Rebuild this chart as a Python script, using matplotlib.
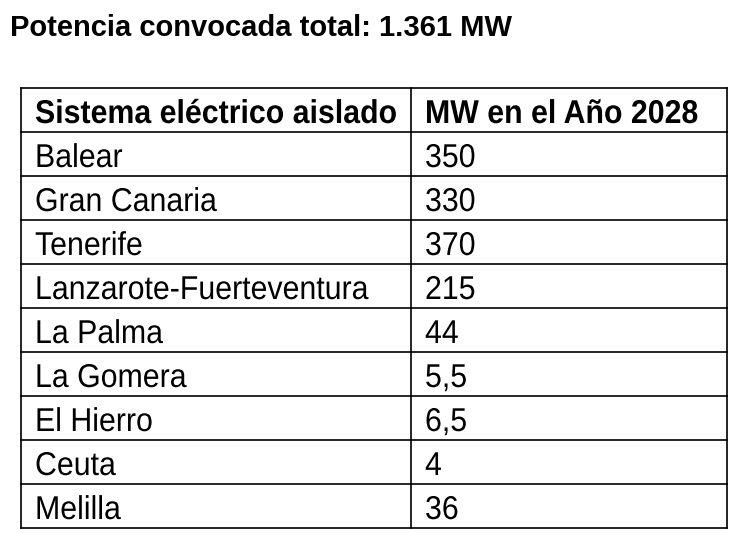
import matplotlib
matplotlib.use("Agg")
import matplotlib.pyplot as plt
from matplotlib.textpath import TextPath
from matplotlib.font_manager import FontProperties
from matplotlib.patches import PathPatch
from matplotlib.transforms import Affine2D

title = "Potencia convocada total: 1.361 MW"
header = ["Sistema eléctrico aislado", "MW en el Año 2028"]
sistemas = ["Balear", "Gran Canaria", "Tenerife", "Lanzarote-Fuerteventura",
            "La Palma", "La Gomera", "El Hierro", "Ceuta", "Melilla"]
mw = ["350", "330", "370", "215", "44", "5,5", "6,5", "4", "36"]

REG = FontProperties(family="Liberation Sans")
BOLD = FontProperties(family="Liberation Sans", weight="bold")
SIZE = 33  # em size in pixels


def text_path(s, prop):
    return TextPath((0, 0), s, size=SIZE, prop=prop)


# emulate a condensed face by squeezing glyphs horizontally
ref_w = text_path("Lanzarote-Fuerteventura", REG).get_extents().width
SQUEEZE = 331 / ref_w


def draw(ax, x, baseline, s, prop):
    p = text_path(s, prop)
    tr = Affine2D().scale(SQUEEZE, -1).translate(x, baseline)
    ax.add_patch(PathPatch(tr.transform_path(p), facecolor="black", edgecolor="none"))


fig = plt.figure(figsize=(7.5, 5.33), dpi=100)
ax = fig.add_axes([0, 0, 1, 1])
ax.set_xlim(0, 750)
ax.set_ylim(533, 0)
ax.axis("off")

ax.text(10, 28, title, fontsize=21, fontweight="bold", family=["Liberation Sans", "DejaVu Sans"],
        va="center", ha="left")

left, mid, right = 21, 411, 727
top, row_h = 88, 44
n_rows = len(sistemas) + 1
bottom = top + row_h * n_rows

for i in range(n_rows + 1):
    ax.plot([left, right], [top + i * row_h] * 2, color="black", lw=1.2)
for x in (left, mid, right):
    ax.plot([x, x], [top, bottom], color="black", lw=1.2)

rows = [header] + [[s, v] for s, v in zip(sistemas, mw)]
for i, (a, b) in enumerate(rows):
    base = top + row_h * i + 35
    prop = BOLD if i == 0 else REG
    draw(ax, left + 14, base, a, prop)
    draw(ax, mid + 14, base, b, prop)

fig.savefig("out.png", dpi=100)
